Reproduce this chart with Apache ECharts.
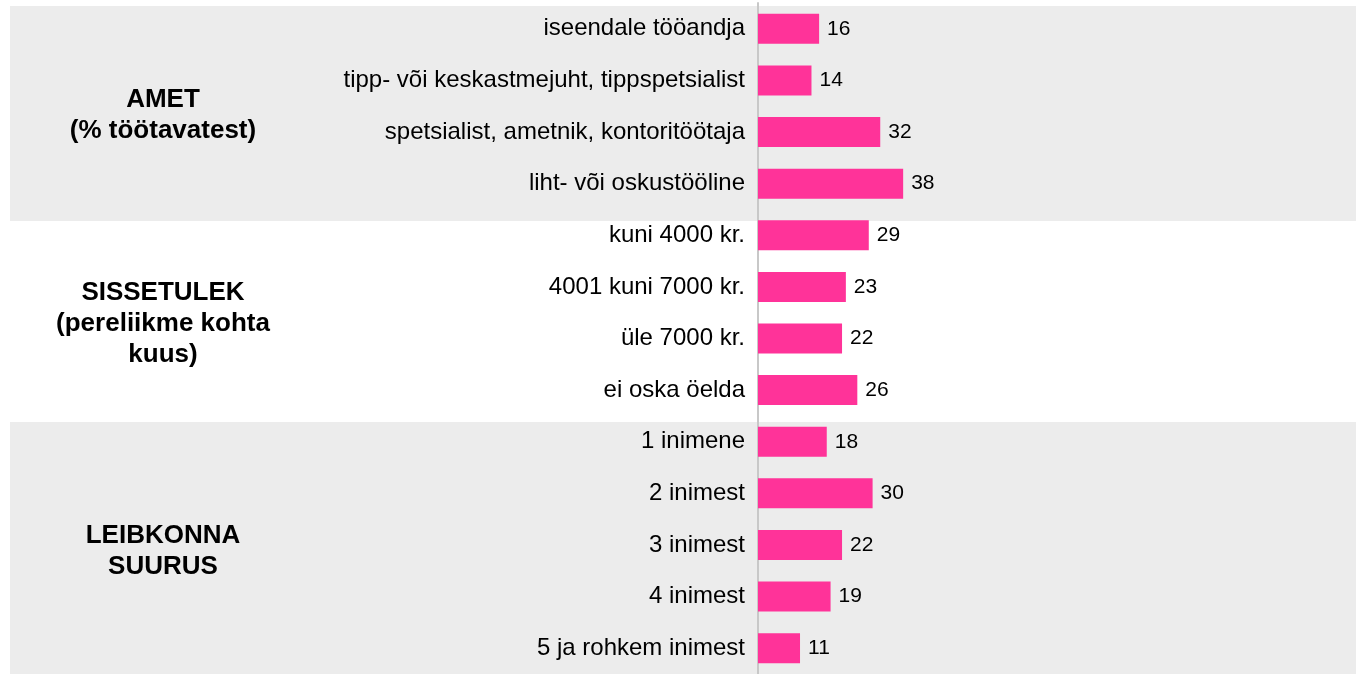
<!DOCTYPE html>
<html>
<head>
<meta charset="utf-8">
<title>Leibkonnad</title>
<script src="https://cdn.jsdelivr.net/npm/echarts@6/dist/echarts.min.js"></script>
<style>
  html, body { margin: 0; padding: 0; background: #fff; }
  #chart { width: 1356px; height: 674px; }
</style>
</head>
<body>
<div id="chart"></div>
<script>
// data
const categories = [
  "iseendale tööandja",
  "tipp- või keskastmejuht, tippspetsialist",
  "spetsialist, ametnik, kontoritöötaja",
  "liht- või oskustööline",
  "kuni 4000 kr.",
  "4001 kuni 7000 kr.",
  "üle 7000 kr.",
  "ei oska öelda",
  "1 inimene",
  "2 inimest",
  "3 inimest",
  "4 inimest",
  "5 ja rohkem inimest"
];
const values = [16, 14, 32, 38, 29, 23, 22, 26, 18, 30, 22, 19, 11];
const groupLabels = [
  "AMET\n(% töötavatest)",
  "SISSETULEK\n(pereliikme kohta\nkuus)",
  "LEIBKONNA\nSUURUS"
];

const FONT = "'Liberation Sans', Arial, sans-serif";
const chart = echarts.init(document.getElementById("chart"));

// background bands and group captions (decoration only)
const bandColor = "#ececec";
const groupCenters = [115, 324, 551];

const option = {
  animation: false,
  backgroundColor: "#fff",
  grid: { left: 758, right: 216, top: 3, height: 673 },
  xAxis: {
    type: "value",
    min: 0,
    max: 100,
    show: false
  },
  yAxis: {
    type: "category",
    data: categories,
    inverse: true,
    axisTick: { show: false },
    axisLine: { show: true, lineStyle: { color: "#c8c8c8", width: 2 } },
    axisLabel: {
      color: "#000",
      fontSize: 24,
      fontFamily: FONT,
      margin: 13
    },
    splitLine: { show: false }
  },
  graphic: [
    {
      type: "rect", z: -10, silent: true,
      shape: { x: 10, y: 6, width: 1346, height: 215 },
      style: { fill: bandColor }
    },
    {
      type: "rect", z: -10, silent: true,
      shape: { x: 10, y: 422, width: 1346, height: 252 },
      style: { fill: bandColor }
    }
  ].concat(groupLabels.map((t, i) => ({
    type: "text",
    z: 10,
    silent: true,
    style: {
      text: t,
      x: 163,
      y: groupCenters[i],
      align: "center",
      verticalAlign: "middle",
      textAlign: "center",
      textVerticalAlign: "middle",
      font: "bold 26px " + FONT,
      lineHeight: 31,
      fill: "#000"
    }
  }))),
  series: [
    {
      type: "bar",
      data: values,
      barWidth: 30,
      itemStyle: { color: "#ff3399" },
      label: {
        show: true,
        position: "right",
        distance: 8,
        color: "#000",
        fontSize: 21,
        fontFamily: FONT
      }
    }
  ]
};

chart.setOption(option);
</script>
</body>
</html>
